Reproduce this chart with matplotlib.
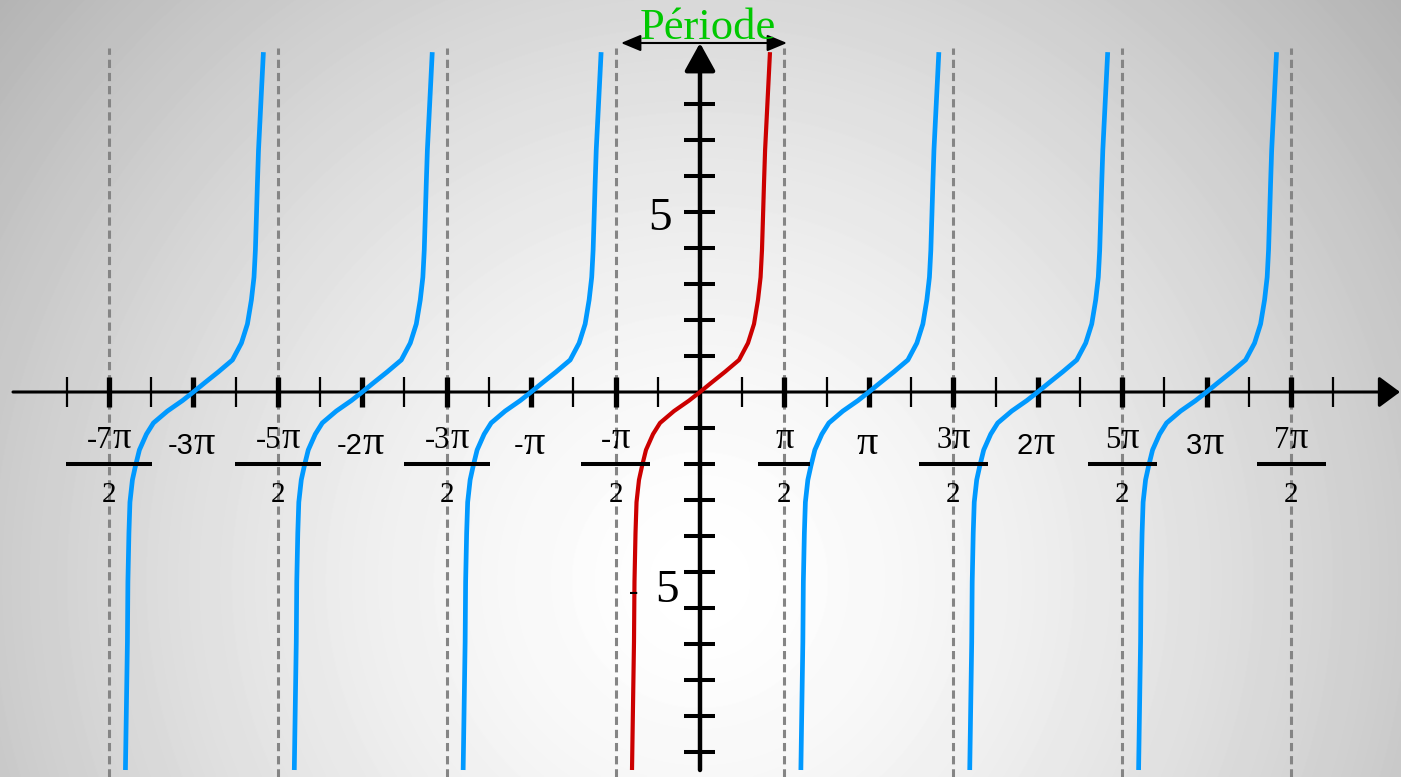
import numpy as np
import matplotlib
matplotlib.use("Agg")
import matplotlib.pyplot as plt
from matplotlib.offsetbox import TextArea, HPacker, AnnotationBbox

PI = np.pi

branch_x = [-1.265, -1.228, -1.219, -1.200, -1.181, -1.135, -1.079, -1.005, -0.874,
            -0.744, -0.484, -0.205, 0.0, 0.205, 0.465, 0.726, 0.893, 1.005, 1.079,
            1.127, 1.153, 1.172, 1.191, 1.211, 1.302]
branch_y = [-10.50, -6.94, -5.28, -3.92, -3.06, -2.44, -2.06, -1.61, -1.17,
            -0.86, -0.53, -0.24, 0.0, 0.25, 0.56, 0.89, 1.36, 1.89, 2.56,
            3.19, 3.94, 4.86, 5.81, 6.72, 9.44]

# branch centres, in multiples of pi
blue_centres = [-3, -2, -1, 1, 2, 3]
red_centre = 0

# asymptotes and fraction labels, in multiples of pi/2
half_pi_odd = [-7, -5, -3, -1, 1, 3, 5, 7]
frac_num = ['-7π', '-5π', '-3π', '-π', 'π', '3π', '5π', '7π']
frac_den = '2'

# labels on whole multiples of pi
pi_mult = [-3, -2, -1, 1, 2, 3]
pi_labels = ['-3π', '-2π', '-π', 'π', '2π', '3π']

# ticks
major_x = [k for k in range(-7, 8) if k != 0]          # * pi/2
minor_x = list(range(-15, 16, 2))                      # * pi/4
y_ticks = [k for k in range(-10, 9) if k != 0]

# pixel scale of the reference
XS, YS = 53.75, 36.0      # px per unit
X0, Y0 = 700, 392         # origin in px
W, H = 1401, 777

fig = plt.figure(figsize=(W / 100, H / 100), dpi=100)
ax = fig.add_axes([0, 0, 1, 1])
xlim = (-X0 / XS, (W - X0) / XS)
ylim = (-(H - Y0) / YS, Y0 / YS)
ax.set_xlim(*xlim)
ax.set_ylim(*ylim)
ax.axis('off')


def pi_text(x, y, s, size, fam, pi_scale, z=4):
    # digits in one font, a bigger serif pi after them
    parts = []
    if s[:-1]:
        parts.append(TextArea(s[:-1], textprops=dict(family=fam, fontsize=size)))
    parts.append(TextArea('π', textprops=dict(family='Liberation Serif',
                                              fontsize=size * pi_scale)))
    box = HPacker(children=parts, align='baseline', pad=0, sep=0)
    ab = AnnotationBbox(box, (x, y), frameon=False, box_alignment=(0.5, 0.5),
                        pad=0, zorder=z)
    ax.add_artist(ab)


# grey radial background
gx, gy = np.meshgrid(np.arange(W), np.arange(H))
d = np.sqrt(((gx - 700) / 700.0) ** 2 + ((gy - 580) / 700.0) ** 2)
grad = np.clip(1.0 - 0.2 * d ** 1.5, 0, 1)
ax.imshow(grad, extent=(xlim[0], xlim[1], ylim[0], ylim[1]), cmap='gray',
          vmin=0, vmax=1, aspect='auto', interpolation='bilinear', zorder=0)

# dashed asymptotes
for k in half_pi_odd:
    ax.plot([k * PI / 2, k * PI / 2], [ylim[0], (Y0 - 48) / YS], color='#858585',
            lw=2.2, linestyle=(0, (2.7, 1.6)), zorder=1)

# axes with arrows
ax.annotate('', xy=((1400 - X0) / XS, 0), xytext=((13 - X0) / XS, 0),
            arrowprops=dict(arrowstyle='-|>,head_length=0.65,head_width=0.48',
                            mutation_scale=20, lw=2.2, color='black',
                            shrinkA=0, shrinkB=0), zorder=2)
ax.annotate('', xy=(0, (Y0 - 43) / YS), xytext=(0, -10.5),
            arrowprops=dict(arrowstyle='-|>,head_length=0.85,head_width=0.47',
                            mutation_scale=20, lw=3.2, color='black',
                            shrinkA=0, shrinkB=0), zorder=2)

th = 15 / YS
ax.vlines([k * PI / 4 for k in minor_x], -th, th, color='black', lw=1.6, zorder=2)
ax.vlines([k * PI / 2 for k in major_x], -th, th, color='black', lw=3.8, zorder=2)
ax.hlines(y_ticks, -16 / XS, 15 / XS, color='black', lw=2.9, zorder=2)

# curves
for c in blue_centres:
    ax.plot(np.array(branch_x) + c * PI, branch_y, color='#0099ff', lw=3.4,
            solid_joinstyle='round', solid_capstyle='butt', zorder=3)
ax.plot(np.array(branch_x) + red_centre * PI, branch_y, color='#cc0000', lw=3.0,
        solid_joinstyle='round', solid_capstyle='butt', zorder=3)

# fraction labels
for k, num in zip(half_pi_odd, frac_num):
    xc = k * PI / 2
    pi_text(xc, (Y0 - 439) / YS, num, 22, 'Liberation Serif', 1.2)
    half = (35 + 17 * len(num)) / 2 / XS
    ax.plot([xc - half, xc + half], [(Y0 - 464) / YS] * 2, color='black',
            lw=2.9, solid_capstyle='butt', zorder=4)
    ax.text(xc, (Y0 - 495) / YS, frac_den, family='Liberation Serif',
            fontsize=21, ha='center', va='center', zorder=4)

for k, lab in zip(pi_mult, pi_labels):
    pi_text(k * PI - 2 / XS, (Y0 - 444) / YS, lab, 21, 'Liberation Sans', 1.45)

# y labels
ax.text((660 - X0) / XS, (Y0 - 219) / YS, '5', family='Liberation Serif',
        fontsize=34, ha='center', va='center', zorder=4)
ax.text((667 - X0) / XS, (Y0 - 591) / YS, '5', family='Liberation Serif',
        fontsize=34, ha='center', va='center', zorder=4)
ax.text((634 - X0) / XS, (Y0 - 593) / YS, '-', family='Liberation Serif',
        fontsize=20, ha='center', va='center', zorder=4)

# period
ax.annotate('', xy=((787 - X0) / XS, (Y0 - 43) / YS),
            xytext=((621 - X0) / XS, (Y0 - 43) / YS),
            arrowprops=dict(arrowstyle='<|-|>,head_length=0.6,head_width=0.25',
                            mutation_scale=20, lw=1.5, color='black',
                            shrinkA=0, shrinkB=0), zorder=4)
ax.text((708 - X0) / XS, (Y0 - 39) / YS, 'Période', family='Liberation Serif',
        fontsize=32, color='#00c800', ha='center', va='baseline', zorder=4)

fig.savefig('out.png', dpi=100)
